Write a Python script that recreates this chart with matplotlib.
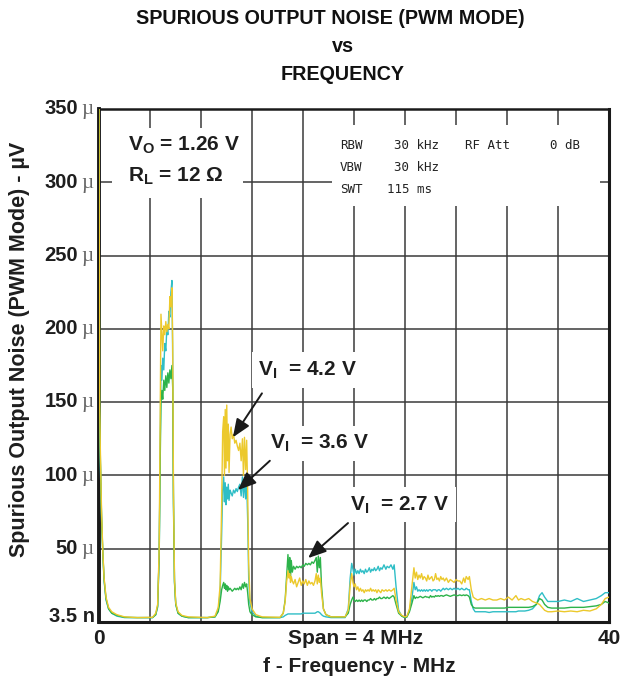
import matplotlib
matplotlib.use('Agg')
import matplotlib.pyplot as plt
from matplotlib.patches import Rectangle

plt.rcParams['font.family'] = ['Liberation Sans', 'DejaVu Sans']
plt.rcParams['mathtext.fontset'] = 'custom'
plt.rcParams['mathtext.rm'] = 'Liberation Sans'
plt.rcParams['mathtext.bf'] = 'Liberation Sans:bold'

# frequency points (MHz) shared by the three sweeps
freq_mhz = [
    0.00, 0.05, 0.10, 0.20, 0.30, 0.40, 0.55, 0.75, 1.0, 1.4, 2.0, 3.0, 4.2,
    4.45, 4.6, 4.72, 4.80, 4.86, 4.93, 5.00, 5.08, 5.16, 5.24, 5.32, 5.40, 5.48, 5.56, 5.64, 5.72,
    5.78, 5.84, 5.92, 6.02, 6.2, 6.5, 7.0, 8.5,
    9.1, 9.35, 9.5, 9.62, 9.70, 9.78, 9.84, 9.90, 9.96, 10.02, 10.08, 10.14, 10.20, 10.28, 10.36,
    10.45, 10.55, 10.65, 10.75, 10.85, 10.95, 11.05, 11.15, 11.25, 11.33, 11.41, 11.50, 11.58,
    11.66, 11.74, 11.84, 12.0, 12.3, 12.8, 14.2,
    14.45, 14.6, 14.72, 14.82, 14.90, 14.96, 15.02, 15.08, 15.16, 15.26, 15.38, 15.5, 15.62, 15.74,
    15.86, 15.98, 16.10, 16.22, 16.34, 16.46, 16.58, 16.70, 16.82, 16.94, 17.04, 17.12, 17.20,
    17.28, 17.36, 17.45, 17.6, 17.8, 18.2, 19.3,
    19.55, 19.7, 19.82, 19.92, 20.0, 20.1, 20.2, 20.3, 20.4, 20.5, 20.6, 20.7, 20.8, 20.9, 21.0,
    21.1, 21.2, 21.3, 21.4, 21.5, 21.6, 21.7, 21.8, 21.9, 22.0, 22.1, 22.2, 22.35, 22.5, 22.6,
    22.75, 22.9, 23.05, 23.15, 23.3, 23.5, 23.75, 24.0, 24.15,
    24.35, 24.55, 24.7, 24.8, 24.9, 25.0, 25.1, 25.2, 25.3, 25.4, 25.5, 25.6, 25.7, 25.8, 25.9,
    26.0, 26.1, 26.2, 26.3, 26.4, 26.5, 26.6, 26.7, 26.8, 26.9, 27.0, 27.1, 27.25, 27.4, 27.55,
    27.7, 27.85, 28.0, 28.15, 28.3, 28.45, 28.6, 28.7, 28.8, 28.95, 29.05, 29.2, 29.35, 29.5,
    29.7, 30.0, 30.3, 30.6, 30.9, 31.2, 31.5, 31.8, 32.1, 32.4, 32.7, 32.9, 33.1, 33.4, 33.7,
    34.0, 34.3, 34.55, 34.75, 34.95, 35.2, 35.5, 36.0, 36.5, 37.0, 37.5, 38.0, 38.5, 39.0, 39.4,
    39.7, 40.0,
]

# noise in uV, VI = 4.2 V (yellow)
noise_vi42 = [
    360, 150, 120, 75, 48, 30, 17, 10, 7, 5, 3.5, 3, 3.2,
    6, 12, 50, 140, 210, 198, 185, 202, 196, 205, 198, 203, 200, 222, 215, 228,
    190, 90, 30, 13, 7, 4.5, 3.5, 3,
    4, 10, 25, 80, 130, 140, 100, 145, 105, 148, 110, 135, 102, 128, 133,
    125, 128, 122, 124, 120, 117, 122, 110, 125, 100, 126, 104, 124,
    90, 40, 16, 9, 5, 3.5, 3.2,
    6, 14, 28, 35, 30, 33, 27, 31, 28, 26, 29, 24, 27, 30,
    25, 28, 26, 29, 25, 28, 26, 27, 25, 28, 33, 26, 32,
    27, 30, 20, 9, 5, 3.5, 3.5,
    8, 25, 33, 27, 24, 26, 22, 24, 21, 23, 21, 22, 20, 22, 21,
    22, 21, 23, 21, 22, 21, 22, 20, 22, 21, 20, 22, 21, 22, 21,
    22, 21, 22, 23, 15, 7, 4.5, 3.5, 4,
    9, 25, 37, 30, 34, 29, 32, 30, 33, 29, 31, 30, 28, 32, 29,
    30, 31, 28, 29, 33, 29, 30, 28, 31, 29, 30, 28, 30, 27, 29,
    28, 27, 29, 28, 28, 26, 30, 27, 31, 29, 31, 22, 17, 16,
    15, 16, 15, 16, 15, 15, 16, 15, 17, 15, 18, 15, 16, 15, 16,
    14, 13, 12, 10, 8, 7, 7, 7.5, 7, 7.5, 7, 8, 7.5, 9, 12,
    16, 17,
]

# noise in uV, VI = 3.6 V (cyan)
noise_vi36 = [
    190, 130, 110, 70, 46, 28, 15, 9, 6, 4, 3, 3, 3,
    5, 10, 45, 120, 175, 165, 180, 172, 190, 185, 200, 196, 212, 208, 225, 233,
    180, 85, 28, 12, 6, 4, 3, 3,
    3.5, 8, 20, 60, 90, 99, 82, 95, 80, 92, 84, 94, 83, 90, 88,
    86, 90, 88, 91, 89, 92, 94, 86, 99, 85, 97, 84, 96,
    70, 30, 13, 7, 4, 3, 3,
    3.5, 4.5, 5, 5.5, 5.5, 5.5, 5.5, 5.5, 5.5, 5.5, 5.5, 5.5, 5.5, 5.5,
    5.5, 6, 6, 6, 6, 6, 6, 6, 6, 6, 6.5, 7, 7,
    6.5, 6, 5, 4, 3.5, 3, 3,
    9, 30, 40, 36, 32, 36, 33, 35, 33, 36, 34, 35, 33, 36, 34,
    35, 37, 34, 36, 35, 37, 35, 36, 38, 35, 37, 36, 39, 36, 38,
    37, 39, 36, 39, 24, 8, 4, 3, 3.5,
    8, 17, 27, 22, 24, 21, 22, 21, 22, 21, 22, 21, 22, 21, 22,
    22, 21, 22, 22, 22, 21, 22, 22, 21, 22, 23, 22, 23, 22, 23,
    22, 23, 22, 23, 22, 23, 22, 22, 23, 22, 22, 14, 9, 7,
    7, 7, 7, 6.5, 7, 7, 7, 7, 7, 7, 7, 7.5, 7.5, 7.5, 8,
    9, 12, 18, 20, 17, 14, 14, 14, 15, 14, 16, 14, 15, 16, 18,
    20, 20,
]

# noise in uV, VI = 2.7 V (green)
noise_vi27 = [
    360, 145, 115, 72, 47, 29, 16, 9, 6, 4.5, 3.2, 3, 3,
    5, 11, 45, 110, 150, 158, 152, 165, 158, 168, 160, 170, 163, 172, 166, 175,
    160, 80, 27, 12, 6, 4, 3, 3,
    3.5, 7, 14, 22, 25, 27, 23, 26, 22, 25, 21, 24, 22, 23, 22,
    21, 22, 23, 22, 23, 22, 24, 22, 26, 23, 27, 24, 26,
    20, 12, 7, 5, 3.5, 3, 3,
    6, 15, 32, 46, 33, 44, 30, 42, 34, 38, 36, 38, 37, 38,
    37, 39, 38, 40, 39, 40, 39, 41, 40, 42, 44, 34, 45,
    37, 44, 25, 9, 5, 3.5, 3.5,
    6, 12, 15, 17, 15, 14, 15, 14, 15, 14, 15, 14, 15, 15, 14,
    15, 15, 16, 15, 15, 16, 15, 16, 16, 17, 16, 16, 17, 16, 17,
    16, 17, 18, 17, 12, 6, 4, 3, 3.5,
    7, 13, 18, 16, 17, 16.5, 17, 17.5, 17, 16.5, 17, 17.5, 17, 17, 16.5,
    18, 17, 17.5, 17, 18, 17.5, 18, 17.5, 18, 18, 17.5, 18, 18.5, 18, 17.5,
    18, 18.5, 18, 18, 18.5, 18, 18.5, 18, 18.5, 18, 17, 12, 10, 9.5,
    9.5, 9.5, 9.5, 9.5, 9.5, 9.5, 9.5, 9.5, 10, 10, 10, 10, 10, 10, 10,
    10.5, 12, 16, 15, 12, 10, 9.5, 9.5, 9.5, 10, 10, 10, 10.5, 11, 12,
    14, 13,
]

y_ticks_uv = [50, 100, 150, 200, 250, 300, 350]
x_ticks_mhz = list(range(0, 41, 4))

assert len(freq_mhz) == len(noise_vi42) == len(noise_vi36) == len(noise_vi27)

W, H = 623, 679
fig = plt.figure(figsize=(W / 100, H / 100), dpi=100)
ax = fig.add_axes([99 / W, 1 - 622 / H, 510 / W, 513 / H])

# traces sit on top of the frame, as on the analyzer screen
ax.plot(freq_mhz, noise_vi36, color='#2fbec6', lw=1.0, zorder=3)
ax.plot(freq_mhz, noise_vi27, color='#2db34a', lw=1.0, zorder=3.1)
ax.plot(freq_mhz, noise_vi42, color='#ecc92c', lw=1.0, zorder=3.2)

ax.set_xlim(0, 40)
ax.set_ylim(0, 350)
ax.set_xticks(x_ticks_mhz)
ax.set_yticks(y_ticks_uv)
ax.set_axisbelow(True)
ax.grid(True, color='#3a3a3a', lw=1.1)
ax.tick_params(length=0, labelbottom=False, labelleft=False)
for side, lw in [('left', 2.8), ('bottom', 2.2), ('right', 2.2), ('top', 1.8)]:
    ax.spines[side].set_linewidth(lw)
    ax.spines[side].set_color('#1a1a1a')

# white panels breaking the grid behind the info texts
ax.add_patch(Rectangle((1.0, 289), 10.3, 48, facecolor='white', edgecolor='none', zorder=1))
ax.add_patch(Rectangle((18.3, 284), 21.0, 55, facecolor='white', edgecolor='none', zorder=1))

# y tick labels: bold number + light mu
ytr = ax.get_yaxis_transform()
for v in y_ticks_uv:
    ax.text(-0.041, v - 3.6, str(v), transform=ytr, ha='right', va='baseline',
            fontsize=14.5, fontweight='bold', color='#1e1e1e', clip_on=False)
    ax.text(-0.034, v - 3.6, 'µ', transform=ytr, ha='left', va='baseline',
            fontsize=15, family='Liberation Serif', color='#666666', clip_on=False)
ax.text(-0.008, 3.5 - 3.6, '3.5 n', transform=ytr, ha='right', va='baseline',
        fontsize=14.5, fontweight='bold', color='#1e1e1e', clip_on=False)

# x labels
fx = lambda px: px / W
fy = lambda py: 1 - py / H
fig.text(fx(99), fy(638), '0', ha='center', va='center', fontsize=15, fontweight='bold', color='#1e1e1e')
fig.text(fx(609), fy(638), '40', ha='center', va='center', fontsize=15, fontweight='bold', color='#1e1e1e')
fig.text(fx(356), fy(638), 'Span = 4 MHz', ha='center', va='center', fontsize=15, fontweight='bold', color='#1e1e1e')
fig.text(fx(359), fy(666), 'f - Frequency - MHz', ha='center', va='center', fontsize=15, fontweight='bold', color='#1e1e1e')
fig.text(fx(20), fy(349), 'Spurious Output Noise (PWM Mode) - µV', rotation=90,
         ha='center', va='center', fontsize=15.5, fontweight='bold', color='#1e1e1e')

# title
fig.text(fx(330), fy(19), 'SPURIOUS OUTPUT NOISE (PWM MODE)', ha='center', va='center',
         fontsize=14.2, fontweight='bold', color='#111111')
fig.text(fx(343), fy(47), 'vs', ha='center', va='center', fontsize=14.2, fontweight='bold', color='#111111')
fig.text(fx(343), fy(75), 'FREQUENCY', ha='center', va='center', fontsize=14.2, fontweight='bold', color='#111111')

# operating conditions
ax.text(2.27, 325, r'V$_\mathbf{O}$ = 1.26 V', ha='left', va='center', fontsize=15,
        fontweight='bold', color='#1e1e1e', zorder=3)
ax.text(2.27, 304, r'R$_\mathbf{L}$ = 12 Ω', ha='left', va='center', fontsize=15,
        fontweight='bold', color='#1e1e1e', zorder=3)

# analyzer settings
mono = dict(family='DejaVu Sans Mono', fontsize=9, color='#222222', va='center', zorder=3)
ax.text(18.9, 325, 'RBW', ha='left', **mono)
ax.text(26.7, 325, '30 kHz', ha='right', **mono)
ax.text(28.7, 325, 'RF Att', ha='left', **mono)
ax.text(37.7, 325, '0 dB', ha='right', **mono)
ax.text(18.9, 310, 'VBW', ha='left', **mono)
ax.text(26.7, 310, '30 kHz', ha='right', **mono)
ax.text(18.9, 295, 'SWT', ha='left', **mono)
ax.text(26.1, 295, '115 ms', ha='right', **mono)

# VI call-outs
box = dict(facecolor='white', edgecolor='none', pad=5)
arrow = dict(arrowstyle='-|>,head_length=1.1,head_width=0.45', color='#1a1a1a', lw=1.4,
             shrinkA=0, shrinkB=0)
callouts = [
    (r'V$_\mathbf{I}$  = 4.2 V', 12.5, 172, (12.78, 156), (10.5, 126)),
    (r'V$_\mathbf{I}$  = 3.6 V', 13.4, 122, (13.4, 110), (10.9, 90)),
    (r'V$_\mathbf{I}$  = 2.7 V', 19.7, 80, (19.53, 67.5), (16.4, 43.6)),
]
for label, tx, ty, start, tip in callouts:
    ax.text(tx, ty, label, ha='left', va='center', fontsize=15, fontweight='bold',
            color='#1e1e1e', bbox=box, zorder=3)
    ax.annotate('', xy=tip, xytext=start, arrowprops=arrow, zorder=4)

fig.savefig('out.png', dpi=100, facecolor='white')
